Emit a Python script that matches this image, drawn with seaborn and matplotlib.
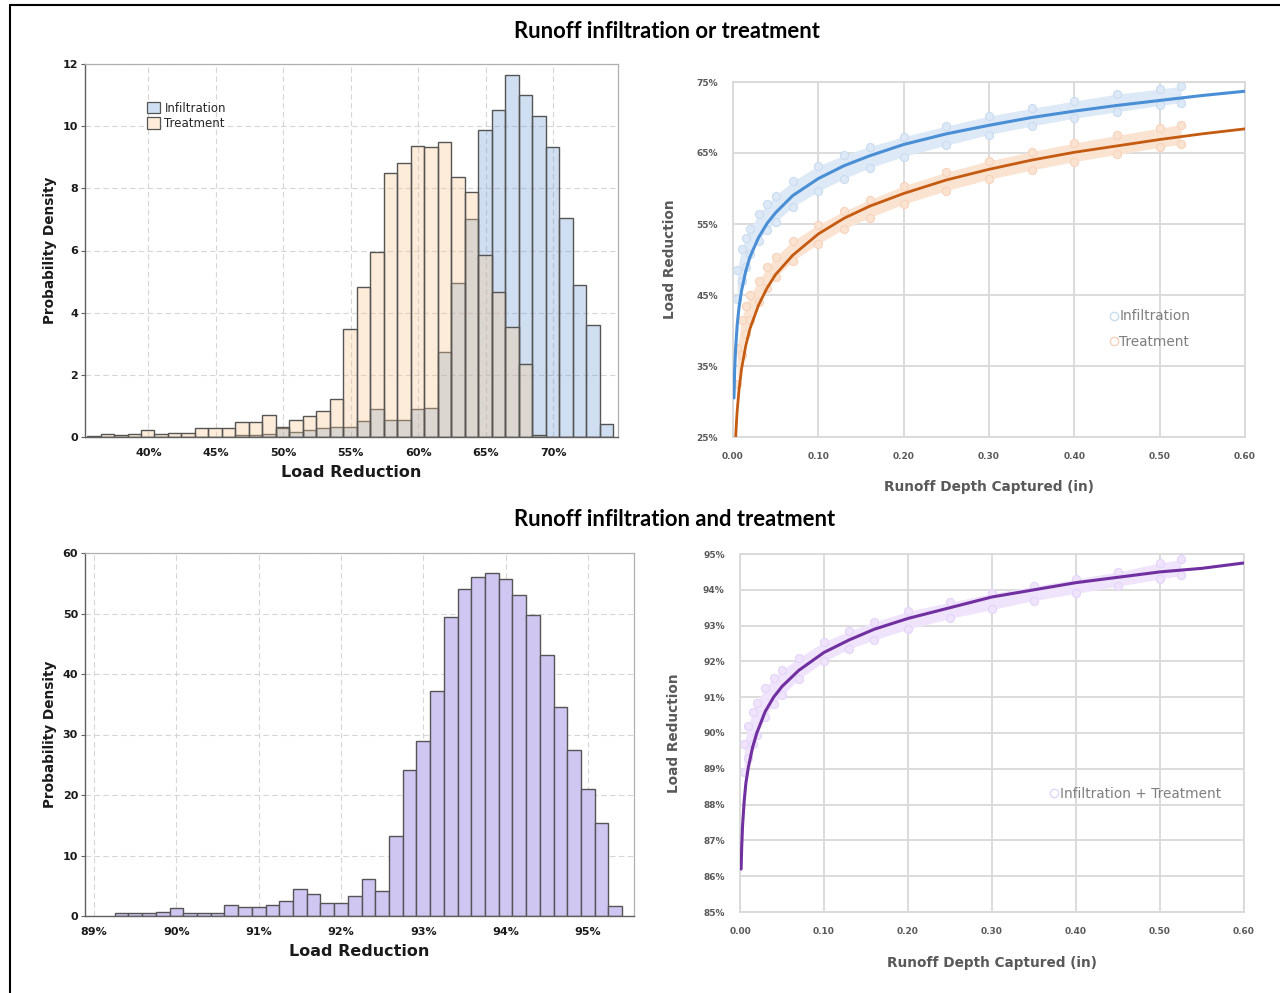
import numpy as np
import pandas as pd
import matplotlib
matplotlib.use("Agg")
import matplotlib.pyplot as plt
from matplotlib.lines import Line2D
from matplotlib.patches import Patch
from matplotlib.ticker import FuncFormatter, MultipleLocator
import seaborn as sns

# ---------------- data ----------------
# Load-reduction histograms (probability density per 1 % bin), separate practices
sep_bin_start = 35.45
sep_bin_width = 1.0
infiltration_density = [0, 0, 0, 0, 0, 0, 0, 0, 0, 0, 0, 0.05, 0.08, 0.10, 0.28,
                        0.15, 0.22, 0.29, 0.33, 0.32, 0.50, 0.91, 0.56, 0.56, 0.89,
                        0.94, 2.73, 4.97, 7.02, 9.88, 10.53, 11.66, 11.01, 10.34, 9.32,
                        7.05, 4.88, 3.60, 0.42]
treatment_density = [0.04, 0.10, 0.05, 0.10, 0.22, 0.10, 0.13, 0.13, 0.28, 0.28,
                     0.28, 0.49, 0.49, 0.70, 0.33, 0.55, 0.67, 0.83, 1.23, 3.48,
                     4.82, 5.96, 8.48, 8.83, 9.36, 9.32, 9.50, 8.36, 7.87, 5.85,
                     4.68, 3.53, 2.34, 0.05, 0, 0, 0, 0, 0]

# Combined practice histogram (1/6 % bins)
comb_bin_start = 89.25
comb_bin_width = 1.0 / 6.0
combined_density = [0.45, 0.45, 0.45, 0.60, 1.40, 0.55, 0.55, 0.55, 1.90, 1.50,
                    1.50, 1.80, 2.40, 4.50, 3.60, 2.20, 2.20, 3.25, 6.10, 4.20,
                    13.15, 24.05, 28.95, 37.15, 49.50, 54.05, 56.10, 56.70, 55.75, 53.00,
                    49.80, 43.10, 34.50, 27.40, 21.00, 15.40, 1.60]

# Fitted load reduction (%) vs runoff depth captured (in)
fit_depth_sep = [0.0011, 0.002, 0.003, 0.005, 0.007, 0.01, 0.015, 0.02, 0.03, 0.04,
                 0.05, 0.07, 0.10, 0.13, 0.16, 0.20, 0.25, 0.30, 0.35, 0.40,
                 0.45, 0.50, 0.55, 0.60]
infiltration_fit = [30.5, 34.6, 37.3, 40.9, 43.2, 45.6, 48.4, 50.4, 53.1, 55.1,
                    56.6, 59.0, 61.4, 63.2, 64.6, 66.2, 67.7, 68.9, 70.0, 70.9,
                    71.7, 72.4, 73.1, 73.7]
fit_depth_trt = [0.0032, 0.004, 0.005, 0.007, 0.01, 0.015, 0.02, 0.03, 0.04, 0.05,
                 0.07, 0.10, 0.13, 0.16, 0.20, 0.25, 0.30, 0.35, 0.40, 0.45,
                 0.50, 0.55, 0.60]
treatment_fit = [25.1, 27.0, 28.8, 31.6, 34.6, 37.9, 40.3, 43.6, 46.0, 47.9,
                 50.6, 53.6, 55.8, 57.5, 59.3, 61.2, 62.7, 64.0, 65.1, 66.0,
                 66.9, 67.7, 68.4]
fit_depth_comb = [0.0013, 0.002, 0.003, 0.005, 0.007, 0.01, 0.015, 0.02, 0.03, 0.04,
                  0.05, 0.07, 0.10, 0.13, 0.16, 0.20, 0.25, 0.30, 0.35, 0.40,
                  0.45, 0.50, 0.55, 0.60]
combined_fit = [86.2, 86.8, 87.4, 88.1, 88.6, 89.05, 89.6, 90.0, 90.6, 91.0,
                91.3, 91.75, 92.25, 92.6, 92.9, 93.2, 93.5, 93.8, 94.0, 94.2,
                94.35, 94.5, 94.6, 94.75]

# Simulated events: lower / upper envelope of the scatter cloud
cloud_depth = [0.005, 0.01, 0.015, 0.02, 0.03, 0.04, 0.05, 0.07, 0.10, 0.13,
               0.16, 0.20, 0.25, 0.30, 0.35, 0.40, 0.45, 0.50, 0.525]
infiltration_lo = [44.5, 47.0, 49.0, 50.8, 52.6, 54.2, 55.3, 57.4, 59.6, 61.4,
                   62.9, 64.5, 66.1, 67.6, 68.8, 69.9, 70.8, 71.7, 72.1]
infiltration_hi = [48.5, 51.5, 53.0, 54.3, 56.4, 57.8, 59.0, 61.0, 63.2, 64.7,
                   65.9, 67.3, 68.8, 70.2, 71.3, 72.3, 73.3, 74.0, 74.4]
treatment_lo = [32.5, 36.5, 39.5, 41.5, 44.0, 46.0, 47.5, 49.8, 52.2, 54.3,
                55.9, 57.8, 59.7, 61.3, 62.6, 63.8, 64.8, 65.8, 66.2]
treatment_hi = [37.5, 41.5, 43.5, 45.0, 47.0, 48.9, 50.4, 52.6, 54.9, 56.8,
                58.4, 60.4, 62.3, 63.9, 65.2, 66.4, 67.5, 68.5, 69.0]
combined_lo = [88.9, 89.3, 89.7, 89.95, 90.45, 90.8, 91.05, 91.5, 92.0, 92.35,
               92.6, 92.9, 93.2, 93.45, 93.7, 93.9, 94.1, 94.3, 94.4]
combined_hi = [89.7, 90.2, 90.6, 90.85, 91.25, 91.55, 91.75, 92.1, 92.55, 92.85,
               93.1, 93.4, 93.65, 93.9, 94.1, 94.3, 94.5, 94.75, 94.85]

# Axis ticks
sep_hist_ticks = [40, 45, 50, 55, 60, 65, 70]
comb_hist_ticks = [89, 90, 91, 92, 93, 94, 95]
depth_ticks = [0.0, 0.1, 0.2, 0.3, 0.4, 0.5, 0.6]
sep_curve_ticks = [25, 35, 45, 55, 65, 75]
comb_curve_ticks = [85, 86, 87, 88, 89, 90, 91, 92, 93, 94, 95]

# ---------------- style ----------------
sns.set_theme(style="white")
plt.rcParams["font.family"] = ["DejaVu Sans"]

W, H = 1280, 993
fig = plt.figure(figsize=(W / 100, H / 100), dpi=100)


def rect(l, t, r, b):
    return [l / W, 1 - b / H, (r - l) / W, (b - t) / H]


ax_h1 = fig.add_axes(rect(85, 64, 618, 437))
ax_s1 = fig.add_axes(rect(733, 82, 1245, 437))
ax_h2 = fig.add_axes(rect(85, 553, 634, 916))
ax_s2 = fig.add_axes(rect(740, 554, 1244, 912))

pct0 = FuncFormatter(lambda v, p: f"{v:.0f}%")
dec2 = FuncFormatter(lambda v, p: f"{v:.2f}")

HIST_EDGE = "#555555"


def draw_hist(ax, start, width, values, color, alpha):
    edges = start + width * np.arange(len(values) + 1)
    centers = (edges[:-1] + edges[1:]) / 2
    df = pd.DataFrame({"x": centers, "w": values})
    sns.histplot(data=df, x="x", weights="w", bins=[float(e) for e in edges],
                 stat="count", color=color, alpha=alpha, edgecolor=HIST_EDGE,
                 linewidth=1.0, ax=ax)


def style_hist(ax):
    ax.grid(True, color="#d6d6d6", linestyle=(0, (5, 3)), linewidth=0.8)
    ax.set_axisbelow(True)
    for side in ["top", "right"]:
        ax.spines[side].set_color("#b0b0b0")
        ax.spines[side].set_linewidth(0.9)
    for side in ["left", "bottom"]:
        ax.spines[side].set_color("#606060")
        ax.spines[side].set_linewidth(1.0)
    ax.tick_params(axis="y", left=True, length=3, width=0.8, color="#606060",
                   labelsize=8, labelcolor="#1a1a1a", pad=2)
    ax.tick_params(axis="x", bottom=False, labelsize=8, labelcolor="#1a1a1a", pad=2)
    for lbl in ax.get_xticklabels() + ax.get_yticklabels():
        lbl.set_fontweight("bold")


def style_curve(ax):
    ax.grid(True, color="#d9d9d9", linestyle="-", linewidth=1.3)
    ax.set_axisbelow(True)
    for side in ax.spines:
        ax.spines[side].set_color("#d9d9d9")
        ax.spines[side].set_linewidth(1.3)
    ax.tick_params(left=False, bottom=False, labelsize=6.5, labelcolor="#595959", pad=5)
    for lbl in ax.get_xticklabels() + ax.get_yticklabels():
        lbl.set_fontweight("bold")


def draw_cloud(ax, lo, hi, fill, edge):
    ax.fill_between(cloud_depth, lo, hi, color=fill, linewidth=0, zorder=2)
    for arr in (lo, hi):
        sns.scatterplot(x=cloud_depth, y=arr, marker="o", s=34, facecolor=fill,
                        edgecolor=edge, linewidth=0.8, ax=ax, zorder=2.5)


# ---- top-left: histogram of infiltration vs treatment ----
INF_C = "#6f9cd2"
TRT_C = "#f9c690"
draw_hist(ax_h1, sep_bin_start, sep_bin_width, infiltration_density, INF_C, 0.333)
draw_hist(ax_h1, sep_bin_start, sep_bin_width, treatment_density, TRT_C, 0.333)
ax_h1.set_xlim(35.3, 74.8)
ax_h1.set_ylim(0, 12)
ax_h1.set_xticks(sep_hist_ticks)
ax_h1.yaxis.set_major_locator(MultipleLocator(2))
ax_h1.xaxis.set_major_formatter(pct0)
style_hist(ax_h1)
ax_h1.set_xlabel("Load Reduction", fontsize=11.5, fontweight="bold", color="#1a1a1a", labelpad=5)
ax_h1.set_ylabel("Probability Density", fontsize=9.8, fontweight="bold", color="#1a1a1a", labelpad=4)
leg_handles = [Patch(facecolor="#cfdef0", edgecolor=HIST_EDGE, linewidth=0.9, label="Infiltration"),
               Patch(facecolor="#fdecd9", edgecolor=HIST_EDGE, linewidth=0.9, label="Treatment")]
ax_h1.legend(handles=leg_handles, loc="upper left", bbox_to_anchor=(0.108, 0.912),
             frameon=False, fontsize=8.5, handlelength=1.1, handleheight=1.1,
             handletextpad=0.35, labelspacing=0.2, borderaxespad=0)

# ---- top-right: load reduction vs depth ----
draw_cloud(ax_s1, infiltration_lo, infiltration_hi, "#dde9f6", "#cadcf1")
draw_cloud(ax_s1, treatment_lo, treatment_hi, "#fbe3d2", "#f8d3bb")
sns.lineplot(x=fit_depth_sep, y=infiltration_fit, color="#4a8fd6", linewidth=2.2, ax=ax_s1, zorder=3)
sns.lineplot(x=fit_depth_trt, y=treatment_fit, color="#c55a11", linewidth=2.0, ax=ax_s1, zorder=3)
ax_s1.set_xlim(0, 0.6)
ax_s1.set_ylim(25, 75)
ax_s1.set_xticks(depth_ticks)
ax_s1.set_yticks(sep_curve_ticks)
ax_s1.xaxis.set_major_formatter(dec2)
ax_s1.yaxis.set_major_formatter(pct0)
style_curve(ax_s1)
ax_s1.set_xlabel("Runoff Depth Captured (in)", fontsize=9.8, fontweight="bold", color="#595959", labelpad=13.5)
ax_s1.set_ylabel("Load Reduction", fontsize=9.8, fontweight="bold", color="#595959", labelpad=14)
h_s1 = [Line2D([], [], marker="o", linestyle="none", markerfacecolor="none",
               markeredgecolor="#c9dcf0", markersize=6, label="Infiltration"),
        Line2D([], [], marker="o", linestyle="none", markerfacecolor="none",
               markeredgecolor="#f7d2b8", markersize=6, label="Treatment")]
leg = ax_s1.legend(handles=h_s1, loc="upper left", bbox_to_anchor=(0.725, 0.375),
                   frameon=False, fontsize=9.8, handlelength=0.6, handletextpad=0.1,
                   labelspacing=0.85, borderaxespad=0)
for t in leg.get_texts():
    t.set_color("#7f7f7f")

# ---- bottom-left: combined histogram ----
draw_hist(ax_h2, comb_bin_start, comb_bin_width, combined_density, "#cfc6f2", 1.0)
ax_h2.set_xlim(88.89, 95.56)
ax_h2.set_ylim(0, 60)
ax_h2.set_xticks(comb_hist_ticks)
ax_h2.yaxis.set_major_locator(MultipleLocator(10))
ax_h2.xaxis.set_major_formatter(pct0)
style_hist(ax_h2)
ax_h2.set_xlabel("Load Reduction", fontsize=11.5, fontweight="bold", color="#1a1a1a", labelpad=5)
ax_h2.set_ylabel("Probability Density", fontsize=9.8, fontweight="bold", color="#1a1a1a", labelpad=4)

# ---- bottom-right: combined load reduction vs depth ----
draw_cloud(ax_s2, combined_lo, combined_hi, "#efe4fc", "#e4d4fa")
sns.lineplot(x=fit_depth_comb, y=combined_fit, color="#7030a0", linewidth=2.2, ax=ax_s2, zorder=3)
ax_s2.set_xlim(0, 0.6)
ax_s2.set_ylim(85, 95)
ax_s2.set_xticks(depth_ticks)
ax_s2.set_yticks(comb_curve_ticks)
ax_s2.xaxis.set_major_formatter(dec2)
ax_s2.yaxis.set_major_formatter(pct0)
style_curve(ax_s2)
ax_s2.set_xlabel("Runoff Depth Captured (in)", fontsize=9.8, fontweight="bold", color="#595959", labelpad=14)
ax_s2.set_ylabel("Load Reduction", fontsize=9.8, fontweight="bold", color="#595959", labelpad=16)
h_s2 = [Line2D([], [], marker="o", linestyle="none", markerfacecolor="none",
               markeredgecolor="#e4d4fa", markersize=6, label="Infiltration + Treatment")]
leg2 = ax_s2.legend(handles=h_s2, loc="upper left", bbox_to_anchor=(0.605, 0.365),
                    frameon=False, fontsize=9.8, handlelength=0.6, handletextpad=0.1,
                    borderaxespad=0)
for t in leg2.get_texts():
    t.set_color("#7f7f7f")

# ---- section titles ----
title_font = ["Lato", "DejaVu Sans"]
fig.text(667 / W, 1 - 31 / H, "Runoff infiltration or treatment", ha="center", va="center",
         fontsize=15.8, fontweight="bold", family=title_font, color="#000000")
fig.text(675 / W, 1 - 519 / H, "Runoff infiltration and treatment", ha="center", va="center",
         fontsize=15.8, fontweight="bold", family=title_font, color="#000000")

# ---- outer frame (top and left edges) ----
fig.add_artist(Line2D([10 / W, 1.0], [1 - 5 / H, 1 - 5 / H], color="black",
                      linewidth=1.5, transform=fig.transFigure))
fig.add_artist(Line2D([10 / W, 10 / W], [0.0, 1 - 5 / H], color="black",
                      linewidth=1.5, transform=fig.transFigure))

fig.savefig("out.png", dpi=100, facecolor="white")
